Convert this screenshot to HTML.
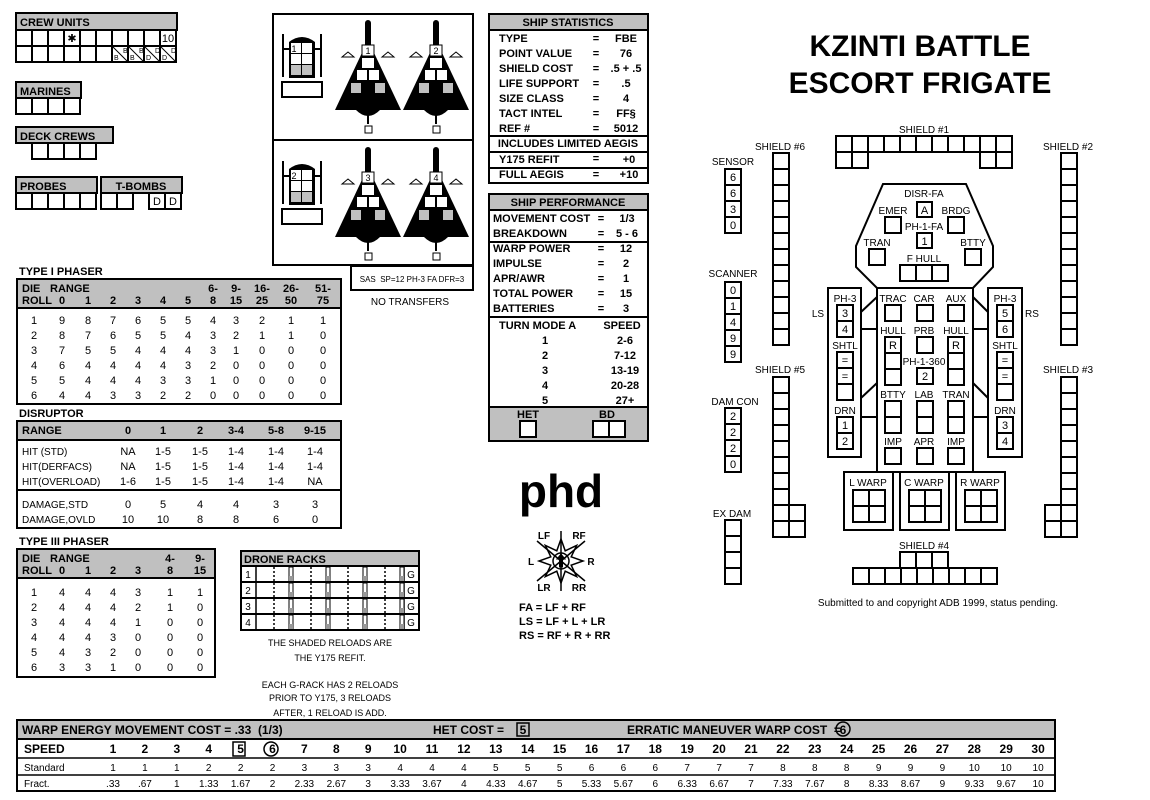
<!DOCTYPE html>
<html><head><meta charset="utf-8"><style>
html,body{margin:0;padding:0;background:#fff;width:1150px;height:800px;overflow:hidden}
svg{display:block}
text{font-family:"Liberation Sans",sans-serif}
</style></head><body>
<svg id="s" width="1150" height="800" viewBox="0 0 1150 800" xmlns="http://www.w3.org/2000/svg"></svg>
<script>
const s=[];const G='#c0c0c0';
function R(x,y,w,h,f,sw){s.push(`<rect x="${x}" y="${y}" width="${w}" height="${h}" fill="${f||'#fff'}" stroke="#000" stroke-width="${sw||2}"/>`)}
function T(x,y,t,sz,wt,an,ff){s.push(`<text x="${x}" y="${y}" font-size="${sz||11}" font-weight="${wt||'normal'}" text-anchor="${an||'start'}"${ff?` font-family="${ff}"`:''}>${t}</text>`)}
function L(x1,y1,x2,y2,w,d){s.push(`<line x1="${x1}" y1="${y1}" x2="${x2}" y2="${y2}" stroke="#000" stroke-width="${w||2}"${d?` stroke-dasharray="${d}"`:''}/>`)}
function P(pts,f,sw){s.push(`<polygon points="${pts}" fill="${f||'#fff'}" stroke="#000" stroke-width="${sw||2}"/>`)}
function col(x,y,n,labs,sz){sz=sz||16;for(let i=0;i<n;i++){R(x,y+i*sz,sz,sz);if(labs&&labs[i]!=null)T(x+sz/2,y+i*sz+12,labs[i],11,'normal','middle')}}
function row(x,y,n,labs,sz){sz=sz||16;for(let i=0;i<n;i++){R(x+i*sz,y,sz,sz);if(labs&&labs[i]!=null)T(x+i*sz+sz/2,y+12,labs[i],11,'normal','middle')}}
// crew units
R(16,13,161,17,G);T(20,26,'CREW UNITS',11,'bold');
row(16,30,10,[,,,'✱',,,,,,'10']);row(16,46,10);
for(let i=6;i<10;i++){L(16+i*16,46,32+i*16,62,1);}
['B','B','D','D'].forEach((c,i)=>{T(18+(6+i)*16,60,c,7);T(27+(6+i)*16,53,c,7)});
R(16,82,65,16,G);T(20,95,'MARINES',11,'bold');row(16,98,4);
R(16,127,97,16,G);T(20,140,'DECK CREWS',11,'bold');row(32,143,4);
R(16,177,81,16,G);T(20,190,'PROBES',11,'bold');row(16,193,5);
R(101,177,81,16,G);T(141,190,'T-BOMBS',11,'bold','middle');row(101,193,2);row(149,193,2,['D','D']);
// fighters box
R(273,14,200,126);R(273,140,200,125);
function shuttle(y){L(283,y,283,y+43);L(321,y,321,y+43);L(283,y+15,289,y+15);L(315,y+15,321,y+15);
s.push(`<path d="M289 ${y+44} V${y+8} Q302 ${y-2} 315 ${y+8} V${y+44} Z" fill="#000"/>`);
for(let r=0;r<3;r++)for(let c=0;c<2;c++){s.push(`<rect x="${291+c*11}" y="${y+9+r*11}" width="10" height="10" fill="${r==2?G:'#fff'}"/>`)}
R(282,y+48,40,15)}
shuttle(34);shuttle(161);
T(294,52,'1',9,'normal','middle');T(294,179,'2',9,'normal','middle');
function fighter(cx,y,n){s.push(`<rect x="${cx-3}" y="${y}" width="6" height="30" rx="3" fill="#000"/>`);
s.push(`<polygon points="${cx},${y+20} ${cx-33},${y+90} ${cx+33},${y+90}" fill="#000"/>`);
s.push(`<path d="M${cx-12} ${y+90} Q${cx} ${y+102} ${cx+12} ${y+90}Z" fill="#000"/>`);
L(cx,y+95,cx,y+104,2);R(cx-3,y+106,7,7,'#fff',1);
s.push(`<rect x="${cx-6}" y="${y+25}" width="12" height="11" fill="#fff" stroke="#000"/>`);T(cx,y+34,n,9,'normal','middle');
s.push(`<rect x="${cx-6}" y="${y+38}" width="12" height="10" fill="#fff"/><rect x="${cx-11}" y="${y+50}" width="10" height="10" fill="#fff"/><rect x="${cx+1}" y="${y+50}" width="10" height="10" fill="#fff"/><rect x="${cx-17}" y="${y+63}" width="10" height="10" fill="${G}"/><rect x="${cx+7}" y="${y+63}" width="10" height="10" fill="${G}"/>`);
P(`${cx-26},${y+37} ${cx-20},${y+32} ${cx-14},${y+37}`,'#fff',1);P(`${cx+14},${y+37} ${cx+20},${y+32} ${cx+26},${y+37}`,'#fff',1)}
fighter(368,20,'1');fighter(436,20,'2');fighter(368,147,'3');fighter(436,147,'4');
R(351,266,122,24);T(412,282,'SAS&#160; SP=12 PH-3 FA DFR=3',8,'normal','middle');
T(410,305,'NO TRANSFERS',10,'normal','middle');
// ship statistics
R(489,14,159,169);R(489,14,159,16,G);T(568,26,'SHIP STATISTICS',11,'bold','middle');
[['TYPE','FBE'],['POINT VALUE','76'],['SHIELD COST','.5 + .5'],['LIFE SUPPORT','.5'],['SIZE CLASS','4'],['TACT INTEL','FF§'],['REF #','5012']].forEach((r,i)=>{let y=42+i*15;T(499,y,r[0],11,'bold');T(596,y,'=',11,'bold','middle');T(626,y,r[1],11,'bold','middle')});
L(489,136,648,136);L(489,152,648,152);L(489,168,648,168);
T(568,147,'INCLUDES LIMITED AEGIS',11,'bold','middle');
T(499,163,'Y175 REFIT',11,'bold');T(596,162,'=',11,'bold','middle');T(629,163,'+0',11,'bold','middle');
T(499,178,'FULL AEGIS',11,'bold');T(596,178,'=',11,'bold','middle');T(629,178,'+10',11,'bold','middle');
// ship performance
R(489,194,159,247);R(489,194,159,16,G);T(568,206,'SHIP PERFORMANCE',11,'bold','middle');
[['MOVEMENT COST','1/3'],['BREAKDOWN','5 - 6']].forEach((r,i)=>{let y=222+i*15;T(493,y,r[0],11,'bold');T(601,y,'=',11,'bold','middle');T(627,y,r[1],11,'bold','middle')});
L(489,242,648,242);
[['WARP POWER','12'],['IMPULSE','2'],['APR/AWR','1'],['TOTAL POWER','15'],['BATTERIES','3']].forEach((r,i)=>{let y=252+i*15;T(493,y,r[0],11,'bold');T(601,y,'=',11,'bold','middle');T(626,y,r[1],11,'bold','middle')});
L(489,317,648,317);
T(499,329,'TURN MODE A',11,'bold');T(622,329,'SPEED',11,'bold','middle');
[['1','2-6'],['2','7-12'],['3','13-19'],['4','20-28'],['5','27+']].forEach((r,i)=>{let y=344+i*15;T(545,y,r[0],11,'bold','middle');T(625,y,r[1],11,'bold','middle')});
R(489,407,159,34,G);T(528,418,'HET',11,'bold','middle');T(607,418,'BD',11,'bold','middle');R(520,421,16,16);R(593,421,16,16);R(609,421,16,16);
// title
T(920,56,'KZINTI BATTLE',30,'bold','middle');T(920,93,'ESCORT FRIGATE',30,'bold','middle');
// type I phaser
const M='Liberation Mono';
T(19,275,'TYPE I PHASER',11,'bold');
R(17,279,324,125);R(17,279,324,29,G);
T(22,292,'DIE',11,'bold',0,M);T(50,292,'RANGE',11,'bold',0,M);T(22,304,'ROLL',11,'bold',0,M);
const c1=[62,88,113,138,163,188,213,236,262,291,323];
['0','1','2','3','4','5','8','15','25','50','75'].forEach((v,j)=>T(c1[j],304,v,11,'bold','middle',M));
[['6-',213],['9-',236],['16-',262],['26-',291],['51-',323]].forEach(a=>T(a[1],292,a[0],11,'bold','middle',M));
[[9,8,7,6,5,5,4,3,2,1,1],[8,7,6,5,5,4,3,2,1,1,0],[7,5,5,4,4,4,3,1,0,0,0],[6,4,4,4,4,3,2,0,0,0,0],[5,4,4,4,3,3,1,0,0,0,0],[4,4,3,3,2,2,0,0,0,0,0]].forEach((r,i)=>{let y=324+i*15;T(34,y,i+1,11,0,'middle',M);r.forEach((v,j)=>T(c1[j],y,v,11,0,'middle',M))});
// disruptor
T(19,417,'DISRUPTOR',11,'bold');
R(17,421,324,107);R(17,421,324,19,G);
const c2=[128,163,200,236,276,315];
T(22,434,'RANGE',11,'bold',0,M);['0','1','2','3-4','5-8','9-15'].forEach((v,j)=>T(c2[j],434,v,11,'bold','middle',M));
L(17,490,341,490);
[['HIT (STD)','NA','1-5','1-5','1-4','1-4','1-4'],['HIT(DERFACS)','NA','1-5','1-5','1-4','1-4','1-4'],['HIT(OVERLOAD)','1-6','1-5','1-5','1-4','1-4','NA']].forEach((r,i)=>{let y=455+i*15;T(22,y,r[0],10,0,0,M);r.slice(1).forEach((v,j)=>T(c2[j],y,v,11,0,'middle',M))});
[['DAMAGE,STD','0','5','4','4','3','3'],['DAMAGE,OVLD','10','10','8','8','6','0']].forEach((r,i)=>{let y=508+i*15;T(22,y,r[0],10,0,0,M);r.slice(1).forEach((v,j)=>T(c2[j],y,v,11,0,'middle',M))});
// type III
T(19,545,'TYPE III PHASER',11,'bold');
R(17,549,198,128);R(17,549,198,29,G);
const c3=[62,88,113,138,170,200];
T(22,562,'DIE',11,'bold',0,M);T(50,562,'RANGE',11,'bold',0,M);T(170,562,'4-',11,'bold','middle',M);T(200,562,'9-',11,'bold','middle',M);
T(22,574,'ROLL',11,'bold',0,M);['0','1','2','3','8','15'].forEach((v,j)=>T(c3[j],574,v,11,'bold','middle',M));
[[4,4,4,3,1,1],[4,4,4,2,1,0],[4,4,4,1,0,0],[4,4,3,0,0,0],[4,3,2,0,0,0],[3,3,1,0,0,0]].forEach((r,i)=>{let y=596+i*15;T(34,y,i+1,11,0,'middle',M);r.forEach((v,j)=>T(c3[j],y,v,11,0,'middle',M))});
// drone racks
R(241,551,178,79);R(241,551,178,15,G);T(244,563,'DRONE RACKS',11,'bold');
for(let i=0;i<4;i++){let y=566+i*16;R(241,y,178,16,'none');L(256,y,256,y+16,1.5);L(404,y,404,y+16,1.5);T(248,y+12,i+1,10,0,'middle');T(411,y+12,'G',10,0,'middle');
for(let k=0;k<4;k++){let x=256+k*37;L(x+18,y+1,x+18,y+15,1.5,'2,2');s.push(`<rect x="${x+33}" y="${y+1}" width="4" height="14" fill="#fff" stroke="#000" stroke-width="1"/><rect x="${x+33}" y="${y+10}" width="4" height="5" fill="#999"/>`)}}
T(330,646,'THE SHADED RELOADS ARE',9,0,'middle');T(330,661,'THE Y175 REFIT.',9,0,'middle');
T(330,688,'EACH G-RACK HAS 2 RELOADS',9,0,'middle');T(330,701,'PRIOR TO Y175, 3 RELOADS',9,0,'middle');T(330,716,'AFTER, 1 RELOAD IS ADD.',9,0,'middle');
// phd
T(561,507,'phd',46,'bold','middle');
{let cx=561,cy=561,p=[];for(let i=0;i<16;i++){let a=i*Math.PI/8-Math.PI/2,r=i%2?11:22;p.push((cx+r*Math.cos(a)).toFixed(1)+','+(cy+r*Math.sin(a)).toFixed(1))}P(p.join(' '),'#fff',1.5);
s.push(`<circle cx="${cx}" cy="${cy}" r="8" fill="#fff" stroke="#000" stroke-width="1.5"/>`);
L(cx,cy-30,cx,cy+30,1.5);L(cx-24,cy-20,cx+24,cy+20,1.5);L(cx+24,cy-20,cx-24,cy+20,1.5);
P(`${cx},${cy-7} ${cx-4},${cy-2} ${cx-1.5},${cy-2} ${cx-1.5},${cy+6} ${cx+1.5},${cy+6} ${cx+1.5},${cy-2} ${cx+4},${cy-2}`,'#000',1);
T(544,539,'LF',10,'bold','middle');T(579,539,'RF',10,'bold','middle');T(531,565,'L',10,'bold','middle');T(591,565,'R',10,'bold','middle');T(544,591,'LR',10,'bold','middle');T(579,591,'RR',10,'bold','middle');}
T(519,611,'FA = LF + RF',11,'bold');T(519,625,'LS = LF + L + LR',11,'bold');T(519,639,'RS = RF + R + RR',11,'bold');
// SSD
T(924,133,'SHIELD #1',10,0,'middle');row(836,136,11);row(836,152,2);row(980,152,2);
T(780,150,'SHIELD #6',10,0,'middle');col(773,153,12);
T(1068,150,'SHIELD #2',10,0,'middle');col(1061,153,12);
T(780,373,'SHIELD #5',10,0,'middle');col(773,377,10);col(789,505,2);
T(1068,373,'SHIELD #3',10,0,'middle');col(1061,377,10);col(1045,505,2);
T(924,549,'SHIELD #4',10,0,'middle');row(900,552,3);row(853,568,9);
T(733,165,'SENSOR',10,0,'middle');col(725,169,4,['6','6','3','0']);
T(733,277,'SCANNER',10,0,'middle');col(725,282,5,['0','1','4','9','9']);
T(735,405,'DAM CON',10,0,'middle');col(725,408,4,['2','2','2','0']);
T(732,517,'EX DAM',10,0,'middle');col(725,520,4);
P('883,184 966,184 993,246 993,267 973,288 877,288 856,267 856,246');
R(877,288,96,184);R(828,288,33,169);R(988,288,34,169);
L(861,312,877,297);L(861,329,877,329);L(861,398,877,383);L(861,417,877,417);
L(988,312,973,297);L(988,329,973,329);L(988,398,973,383);L(988,417,973,417);
R(844,472,49,58);R(900,472,49,58);R(956,472,49,58);
[[844,'L WARP'],[900,'C WARP'],[956,'R WARP']].forEach(a=>{T(a[0]+24,486,a[1],10,0,'middle');for(let i=0;i<2;i++)for(let j=0;j<2;j++)R(a[0]+9+i*16,490+j*16,16,16)});
T(924,197,'DISR-FA',10,0,'middle');col(917,202,1,['A'],15);
T(893,214,'EMER',10,0,'middle');R(885,217,16,16);T(956,214,'BRDG',10,0,'middle');R(948,217,16,16);
T(924,230,'PH-1-FA',10,0,'middle');col(917,233,1,['1'],15);
T(877,246,'TRAN',10,0,'middle');R(869,249,16,16);T(973,246,'BTTY',10,0,'middle');R(965,249,16,16);
T(924,262,'F HULL',10,0,'middle');row(900,265,3);
T(893,302,'TRAC',10,0,'middle');R(885,305,16,16);T(924,302,'CAR',10,0,'middle');R(917,305,16,16);T(956,302,'AUX',10,0,'middle');R(948,305,16,16);
T(893,334,'HULL',10,0,'middle');col(885,337,3,['R']);T(924,334,'PRB',10,0,'middle');R(917,337,16,16);T(956,334,'HULL',10,0,'middle');col(948,337,3,['R']);
T(924,365,'PH-1-360',10,0,'middle');col(917,368,1,['2']);
T(893,398,'BTTY',10,0,'middle');col(885,401,2);T(924,398,'LAB',10,0,'middle');col(917,401,2);T(956,398,'TRAN',10,0,'middle');col(948,401,2);
T(893,445,'IMP',10,0,'middle');R(885,448,16,16);T(924,445,'APR',10,0,'middle');R(917,448,16,16);T(956,445,'IMP',10,0,'middle');R(948,448,16,16);
T(845,302,'PH-3',10,0,'middle');col(837,305,2,['3','4']);T(1005,302,'PH-3',10,0,'middle');col(997,305,2,['5','6']);
T(818,317,'LS',10,0,'middle');T(1032,317,'RS',10,0,'middle');
T(845,349,'SHTL',10,0,'middle');col(837,352,3,['=','=']);T(1005,349,'SHTL',10,0,'middle');col(997,352,3,['=','=']);
T(845,414,'DRN',10,0,'middle');col(837,417,2,['1','2']);T(1005,414,'DRN',10,0,'middle');col(997,417,2,['3','4']);
T(938,606,'Submitted to and copyright ADB 1999, status pending.',10,0,'middle');
// bottom table
R(17,720,1038,71);R(17,720,1038,19,G);L(17,758,1055,758,1.5);L(17,775,1055,775,1.5);
T(22,734,'WARP ENERGY MOVEMENT COST = .33&#160;&#160;(1/3)',12,'bold');T(433,734,'HET COST = ',12,'bold');R(517,723,12,13,'none',1.5);T(523,734,'5',12,'bold','middle');
T(627,734,'ERRATIC MANEUVER WARP COST&#160; =',12,'bold');s.push('<circle cx="843" cy="729" r="7" fill="none" stroke="#000" stroke-width="1.5"/>');T(843,734,'6',12,'bold','middle');
T(24,753,'SPEED',12,'bold');T(24,771,'Standard',10);T(24,787,'Fract.',10);
for(let i=1;i<=30;i++){let x=113+(i-1)*31.9;T(x,753,i,12,'bold','middle');T(x,771,Math.ceil(i/3),10,0,'middle');let f=i/3;let fs=(i%3==0)?String(i/3):(f.toFixed(2).replace(/^0/,''));T(x,787,fs,10,0,'middle')}
R(233,742,12,14,'none',1.5);s.push('<circle cx="271" cy="749" r="7" fill="none" stroke="#000" stroke-width="1.5"/>');
document.getElementById('s').innerHTML=s.join('');
</script>
</body></html>
